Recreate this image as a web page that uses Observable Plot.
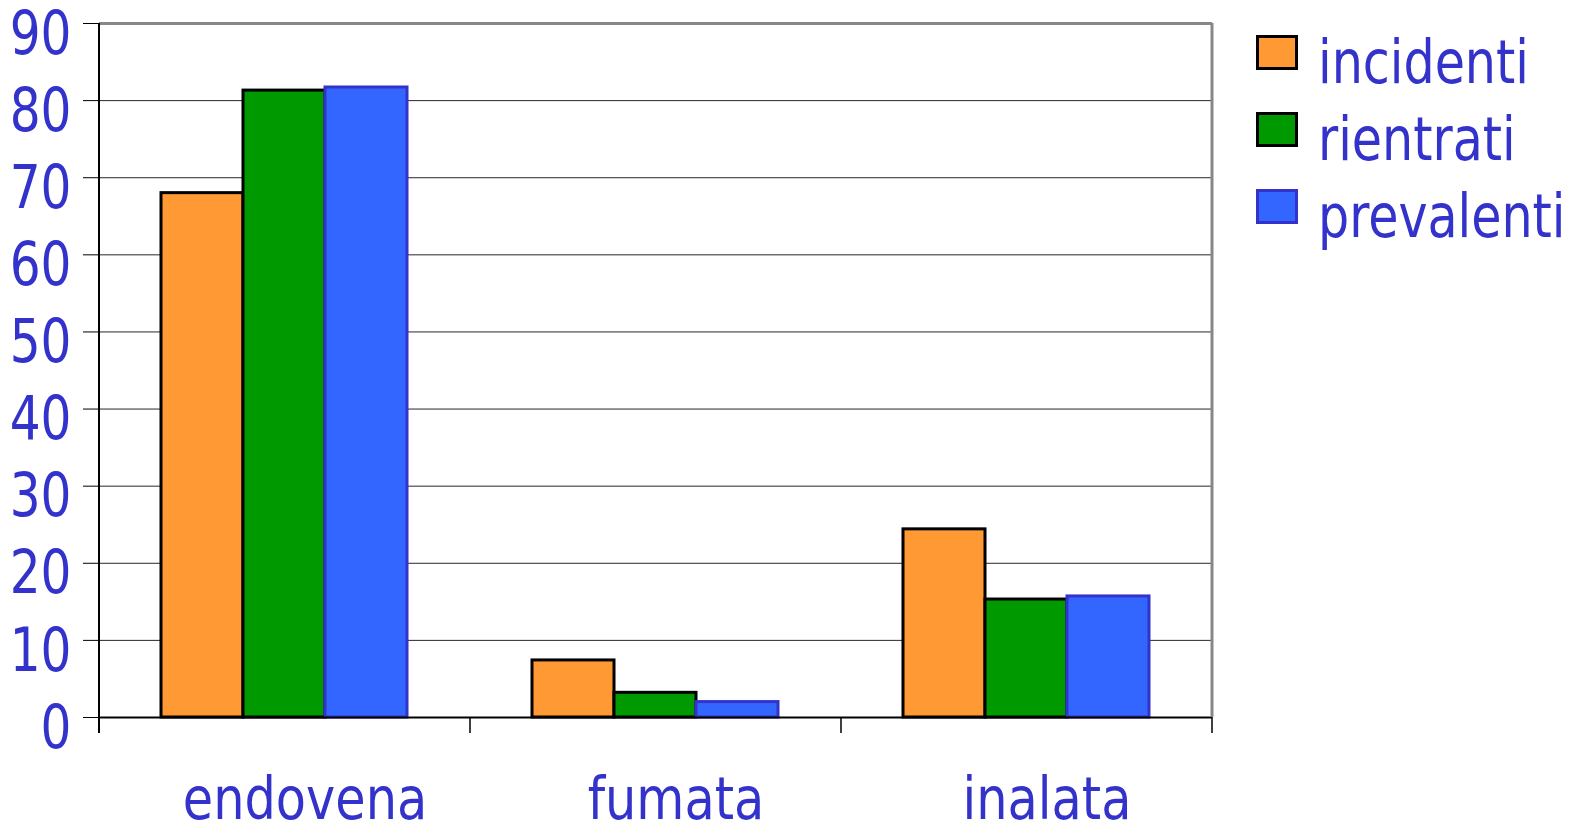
<!DOCTYPE html>
<html><head><meta charset="utf-8">
<script src="https://cdn.jsdelivr.net/npm/d3@7"></script>
<script src="https://cdn.jsdelivr.net/npm/@observablehq/plot@0.6"></script>
<style>
body{margin:0;background:#fff;}
#wrap{position:relative;width:1570px;height:831px;}
svg text, .lg{font-family:"DejaVu Sans Condensed","DejaVu Sans",sans-serif !important;}
.lg{position:absolute;left:1256px;top:24px;font-size:60px;color:#3333CC;line-height:77px;}
.lg div{display:flex;align-items:center;}
.lg span.sw{display:inline-block;width:36px;height:29px;border:3px solid #000;margin-right:20px;margin-top:-20px;flex:none;}
.lg span.t{display:inline-block;transform:scaleX(0.91);transform-origin:left center;white-space:nowrap;}
</style></head>
<body><div id="wrap"></div>
<script>
const categories = ["endovena","fumata","inalata"];
const series = ["incidenti","rientrati","prevalenti"];
const incidenti = [68.0, 7.4, 24.4];
const rientrati = [81.3, 3.2, 15.3];
const prevalenti = [81.7, 2.0, 15.7];
const yTicks = [0,10,20,30,40,50,60,70,80,90];
const fills = ["#FF9933","#009900","#3366FF"];
const strokes = ["#000000","#000000","#3333CC"];

const vals = [incidenti, rientrati, prevalenti];
const data = [];
categories.forEach((c,i)=>series.forEach((s,j)=>data.push({cat:c, ser:s, v:vals[j][i]})));

const chart = Plot.plot({
  width:1570, height:831,
  marginLeft:99, marginRight:358, marginTop:23, marginBottom:114,
  style:{background:"#fff", overflow:"visible"},
  fx:{domain:categories, padding:0, label:null, axis:null},
  x:{domain:series, paddingInner:0, paddingOuter:0.76, axis:null},
  y:{domain:[0,90], label:null, axis:null},
  color:{domain:series, range:fills},
  marks:[
    Plot.ruleY(yTicks.filter(d=>d>0 && d<90), {y:d=>d, stroke:"#000", strokeWidth:1, strokeOpacity:0.85}),
    Plot.ruleY([90], {stroke:"#888", strokeWidth:3}),
    Plot.barY(data, {fx:"cat", x:"ser", y:"v", fill:"ser",
      stroke:d=>strokes[series.indexOf(d.ser)], strokeWidth:3, dx:-1}),
    Plot.ruleY([0], {stroke:"#000", strokeWidth:2}),
    Plot.axisY(yTicks, {anchor:"left", tickSize:16, text:null, stroke:"#000", label:null}),
    Plot.axisY(yTicks, {anchor:"left", tickSize:0, tickPadding:28, fontSize:60, fill:"#3333CC", label:null, dy:11, tickFormat:d=>String(d), className:"ylab"}),
    Plot.axisFx({anchor:"bottom", tickSize:0, tickPadding:60, fontSize:59, fill:"#3333CC", label:null, dx:20, className:"fxlab"})
  ]
});
document.getElementById("wrap").appendChild(chart);

// horizontally condense the axis texts about their anchors
function squeeze(nodes, s){
  nodes.forEach(t=>{
    const bb = t.getBBox();
    const a = getComputedStyle(t).textAnchor;
    const ax = a==="end" ? bb.x+bb.width : a==="middle" ? bb.x+bb.width/2 : bb.x;
    const tl = t.transform.baseVal.consolidate();
    const m = tl ? tl.matrix : {a:1,c:0,e:0};
    const px = m.a*ax + m.e;
    const old = t.getAttribute("transform") || "";
    t.setAttribute("transform", `translate(${px},0) scale(${s},1) translate(${-px},0) ${old}`);
  });
}
squeeze(chart.querySelectorAll(".ylab text"), 0.9);
squeeze(chart.querySelectorAll(".fxlab text"), 0.93);

// frame lines and category boundary ticks, positioned from the library scales
const fx = chart.scale("fx"), y = chart.scale("y");
const svg = d3.select(chart);
const bw = fx.bandwidth;
const x0 = fx.apply(categories[0]), x1 = fx.apply(categories[categories.length-1]) + bw;
const yTop = y.apply(90), yBot = y.apply(0);
const g = svg.append("g");
g.append("line").attr("x1",x1).attr("x2",x1).attr("y1",yTop).attr("y2",yBot).attr("stroke","#888").attr("stroke-width",3);
g.append("line").attr("x1",x0).attr("x2",x0).attr("y1",yTop).attr("y2",yBot+16).attr("stroke","#000").attr("stroke-width",2);
categories.forEach((c)=>{
  const xx = fx.apply(c) + bw;
  g.append("line").attr("x1",xx).attr("x2",xx).attr("y1",yBot).attr("y2",yBot+16).attr("stroke","#000").attr("stroke-width",1.5);
});

// legend
const lg = document.createElement("div");
lg.className="lg";
series.forEach((s,j)=>{
  const row=document.createElement("div");
  row.innerHTML=`<span class="sw" style="background:${fills[j]};border-color:${strokes[j]}"></span><span class="t">${s}</span>`;
  lg.appendChild(row);
});
document.getElementById("wrap").appendChild(lg);
</script>
</body></html>
